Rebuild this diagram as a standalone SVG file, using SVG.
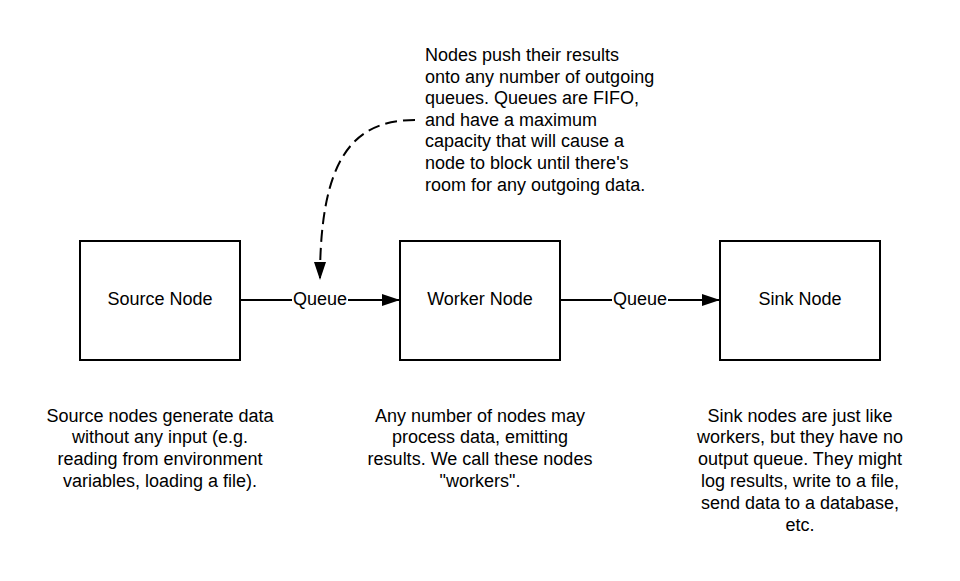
<svg xmlns="http://www.w3.org/2000/svg" width="960" height="581" viewBox="0 0 960 581">
<defs>
<style>
text{font-family:"Liberation Sans",Arial,sans-serif;font-size:18px;fill:#000}
.box{fill:#fff;stroke:#000;stroke-width:2}
.ln{fill:none;stroke:#000;stroke-width:2}
.c{text-anchor:middle}
</style>
<marker id="ah" viewBox="0 0 18 12" refX="17" refY="6" markerWidth="18" markerHeight="12" markerUnits="userSpaceOnUse" orient="auto">
<path d="M0,0 L18,6 L0,12 Z" fill="#000"/>
</marker>
</defs>
<rect width="960" height="581" fill="#fff"/>
<g id="connectors">
<path class="ln" d="M241,300 H399" marker-end="url(#ah)"/>
<path class="ln" d="M561,300 H719" marker-end="url(#ah)"/>
<rect x="292" y="289" width="56" height="22" fill="#fff"/>
<text class="c" x="320" y="305">Queue</text>
<rect x="612" y="289" width="56" height="22" fill="#fff"/>
<text class="c" x="640" y="305">Queue</text>
<path class="ln" d="M415,120 C352,120 320,160 320,279" stroke-dasharray="12,6" marker-end="url(#ah)"/>
</g>
<g id="source-node">
<rect class="box" x="80" y="241" width="160" height="119"/>
<text class="c" x="160" y="305">Source Node</text>
</g>
<g id="worker-node">
<rect class="box" x="400" y="241" width="160" height="119"/>
<text class="c" x="480" y="305">Worker Node</text>
</g>
<g id="sink-node">
<rect class="box" x="720" y="241" width="160" height="119"/>
<text class="c" x="800" y="305">Sink Node</text>
</g>
<g id="queue-note">
<text x="425" y="61">Nodes push their results</text>
<text x="425" y="82.6">onto any number of outgoing</text>
<text x="425" y="104.2">queues. Queues are FIFO,</text>
<text x="425" y="125.8">and have a maximum</text>
<text x="425" y="147.4">capacity that will cause a</text>
<text x="425" y="169">node to block until there's</text>
<text x="425" y="190.6">room for any outgoing data.</text>
</g>
<g id="source-note">
<text class="c" x="160" y="421.5">Source nodes generate data</text>
<text class="c" x="160" y="443.3">without any input (e.g.</text>
<text class="c" x="160" y="465.1">reading from environment</text>
<text class="c" x="160" y="486.9">variables, loading a file).</text>
</g>
<g id="worker-note">
<text class="c" x="480" y="421.5">Any number of nodes may</text>
<text class="c" x="480" y="443.3">process data, emitting</text>
<text class="c" x="480" y="465.1">results. We call these nodes</text>
<text class="c" x="480" y="486.9">"workers".</text>
</g>
<g id="sink-note">
<text class="c" x="800" y="421.5">Sink nodes are just like</text>
<text class="c" x="800" y="443.3">workers, but they have no</text>
<text class="c" x="800" y="465.1">output queue. They might</text>
<text class="c" x="800" y="486.9">log results, write to a file,</text>
<text class="c" x="800" y="508.7">send data to a database,</text>
<text class="c" x="800" y="530.5">etc.</text>
</g>
</svg>
